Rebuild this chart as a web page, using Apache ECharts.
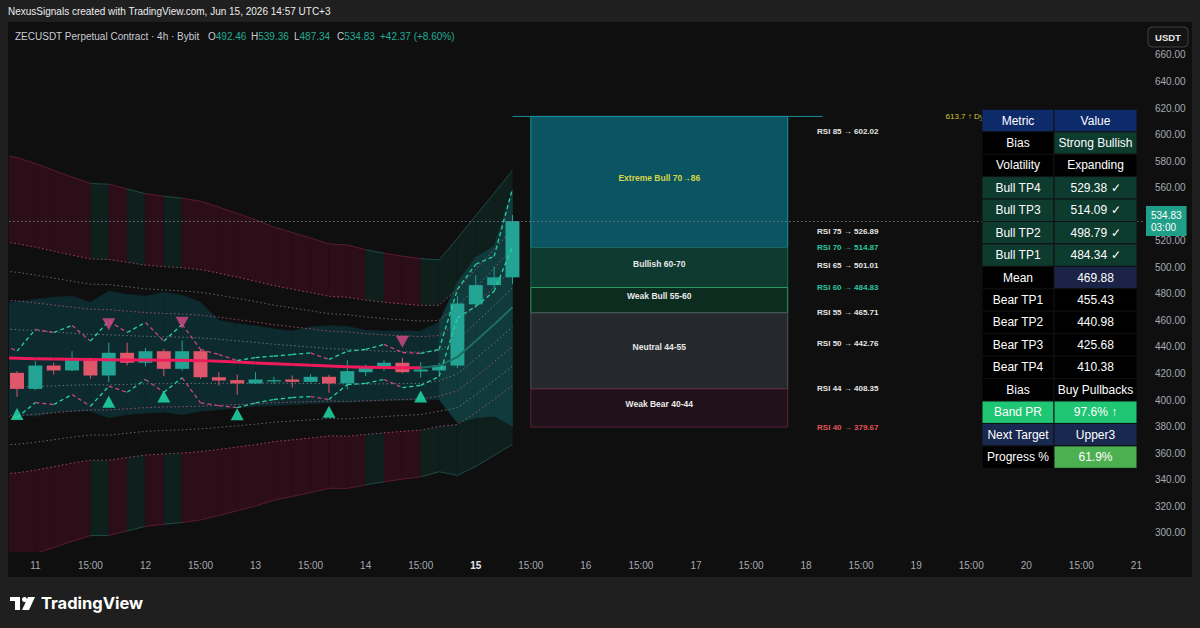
<!DOCTYPE html>
<html>
<head>
<meta charset="utf-8">
<title>ZECUSDT Perpetual Contract 4h</title>
<script src="https://cdn.jsdelivr.net/npm/echarts@6/dist/echarts.min.js"></script>
<style>
  html, body { margin: 0; padding: 0; background: #1f1f1f; }
  #chart { width: 1200px; height: 628px; }
</style>
</head>
<body>
<div id="chart"></div>
<script>
// x = bar index of the 4h candles (bar 1 = Jun 11 03:00, 6 bars a day)
const barIdx = [-1, 0, 1, 2, 3, 4, 5, 6, 7, 8, 9, 10, 11, 12, 13, 14, 15, 16, 17, 18, 19, 20, 21, 22, 23, 24, 25, 26, 27];

// candles, bars 0..27
const candleBars = [0, 1, 2, 3, 4, 5, 6, 7, 8, 9, 10, 11, 12, 13, 14, 15, 16, 17, 18, 19, 20, 21, 22, 23, 24, 25, 26, 27];
const candleO = [420.5, 408.4, 426.0, 422.3, 430.0, 418.5, 435.6, 428.1, 436.8, 423.5, 436.8, 417.2, 415.0, 412.5, 414.0, 415.5, 413.7, 417.5, 412.5, 421.0, 424.3, 428.1, 421.5, 422.3, 426.0, 472.1, 486.6, 492.46];
const candleH = [421.8, 429.3, 428.1, 436.8, 432.0, 443.2, 443.2, 439.3, 438.5, 444.9, 438.0, 421.0, 419.2, 421.0, 417.5, 418.5, 419.5, 419.0, 430.0, 426.8, 430.0, 431.8, 428.5, 428.0, 478.3, 494.0, 500.5, 539.36];
const candleL = [402.4, 407.5, 419.2, 421.8, 416.0, 413.4, 426.0, 425.2, 418.0, 422.0, 416.0, 411.0, 404.0, 412.0, 412.0, 409.5, 413.0, 405.5, 408.0, 418.0, 422.0, 420.0, 416.8, 420.0, 424.0, 469.6, 484.0, 487.34];
const candleC = [408.4, 426.0, 422.3, 430.0, 418.5, 435.6, 428.1, 436.8, 423.5, 436.8, 417.2, 414.7, 412.5, 415.5, 415.0, 413.7, 417.5, 412.5, 421.8, 424.8, 428.1, 421.0, 423.0, 426.0, 472.8, 486.6, 492.46, 534.83];

// band indicator, one value per barIdx
const bandMid = [431.8, 431.5, 431.2, 431.0, 430.8, 430.5, 430.3, 430.2, 430.1, 430.0, 429.9, 429.7, 429.2, 428.6, 428.0, 427.4, 426.8, 426.2, 425.6, 425.1, 424.7, 424.5, 424.4, 424.3, 425.8, 432.5, 444.5, 457.0, 469.88];
const bandStep = [43.8, 43.2, 42.0, 40.6, 39.2, 37.9, 37.8, 36.8, 35.8, 35.3, 34.9, 34.3, 33.2, 32.0, 30.8, 29.4, 28.4, 27.4, 26.3, 26.2, 25.3, 24.6, 24.0, 23.5, 22.8, 25.5, 27.0, 28.2, 29.5];
const dottedLevels = [2, 1.5, 1, 0.5, -0.5, -1, -1.5, -2];
const outerLevel = 3.5;
const bullFillBars = [5, 7, 9, 20, 23, 24, 25, 26, 27];   // segment ending at these bars is green
const meanBullFrom = 22;

const cloudTop = [472.5, 474.3, 475.8, 477.4, 478.3, 473.6, 481.9, 479.6, 478.3, 481.1, 478.9, 473.6, 460.0, 457.5, 455.7, 453.5, 452.0, 455.0, 456.0, 455.5, 452.5, 452.0, 452.0, 452.0, 458.5, 488.7, 507.5, 515.8, 559.0];
const cloudBot = [389.0, 389.0, 387.8, 390.6, 391.6, 391.6, 386.6, 389.1, 390.3, 391.0, 389.0, 391.6, 392.8, 394.0, 395.3, 395.8, 396.6, 397.4, 397.9, 398.4, 399.1, 399.6, 399.8, 400.4, 400.4, 382.8, 386.6, 387.8, 380.3];

const upperZig = [443.4, 436.8, 453.2, 450.9, 456.2, 444.4, 459.5, 450.9, 458.5, 444.4, 457.0, 438.1, 434.3, 429.8, 432.0, 433.1, 434.3, 435.5, 430.6, 436.8, 438.1, 441.9, 435.8, 435.1, 438.1, 483.4, 502.3, 508.3, 559.0];
const lowerZig = [388.0, 386.8, 398.1, 396.6, 404.2, 395.3, 410.4, 405.9, 415.5, 405.9, 416.8, 397.9, 395.8, 394.3, 397.9, 400.4, 401.9, 402.6, 400.4, 411.7, 412.5, 415.5, 409.4, 411.0, 417.7, 462.0, 470.6, 481.9, 515.8];

const buyBars = [0, 5, 8, 12, 17, 22];
const buyVals = [389.5, 398.8, 402.6, 389.3, 391.2, 402.6];
const sellBars = [5, 9, 21];
const sellVals = [457.1, 458.3, 444.0];

// RSI projection zones
const zoneNames = ['Extreme Bull 70→86', 'Bullish 60-70', 'Weak Bull 55-60', 'Neutral 44-55', 'Weak Bear 40-44'];
const zoneLow = [514.87, 484.83, 465.71, 408.35, 379.67];
const zoneHigh = [613.7, 514.87, 484.83, 465.71, 408.35];
const zoneFrom = 28, zoneTo = 42;
const rsiNames = ['RSI 85', 'RSI 75', 'RSI 70', 'RSI 65', 'RSI 60', 'RSI 55', 'RSI 50', 'RSI 44', 'RSI 40'];
const rsiPrices = [602.02, 526.89, 514.87, 501.01, 484.83, 465.71, 442.76, 408.35, 379.67];
const rsiKind = [0, 0, 1, 0, 1, 0, 0, 0, 2];
const dynHigh = 613.7;

// table
const tableMetric = ['Metric', 'Bias', 'Volatility', 'Bull TP4', 'Bull TP3', 'Bull TP2', 'Bull TP1', 'Mean', 'Bear TP1', 'Bear TP2', 'Bear TP3', 'Bear TP4', 'Bias', 'Band PR', 'Next Target', 'Progress %'];
const tableValue = ['Value', 'Strong Bullish', 'Expanding', '529.38 ✓', '514.09 ✓', '498.79 ✓', '484.34 ✓', '469.88', '455.43', '440.98', '425.68', '410.38', 'Buy Pullbacks', '97.6% ↑', 'Upper3', '61.9%'];

// axes
const xTickIdx = [1, 4, 7, 10, 13, 16, 19, 22, 25, 28, 31, 34, 37, 40, 43, 46, 49, 52, 55, 58, 61];
const xTickLabels = ['11', '15:00', '12', '15:00', '13', '15:00', '14', '15:00', '15', '15:00', '16', '15:00', '17', '15:00', '18', '15:00', '19', '15:00', '20', '15:00', '21'];
const yTicks = [300, 320, 340, 360, 380, 400, 420, 440, 460, 480, 500, 520, 540, 560, 580, 600, 620, 640, 660];
const countdown = '03:00';

// ---- styles
const FONT = '"Liberation Sans", Arial, sans-serif';
const UP = '#22a394', DOWN = '#e0566b';
const FILL_BEAR = '#2b0e18', FILL_BULL = '#0f1f1c';
const OUTER_BEAR = '#5a1a2c', OUTER_BULL = '#1c4a45';
const zoneFill = ['#0b5461', '#0e3a30', '#0d2c20', '#25282c', '#21111a'];
const zoneStroke = ['#1b8f9c', '#1b6a55', '#2c9a60', '#50555b', '#5b2238'];
const zoneText = ['#d6d64a', '#e8e8e8', '#e8e8e8', '#e8e8e8', '#e8e8e8'];
const rsiColor = ['#e6e6e6', '#2bc7a2', '#e0555a'];
const metricFill = ['#0d2a6b', '#000', '#000', '#0d3b2e', '#0d3b2e', '#0d3b2e', '#0d3b2e', '#000', '#000', '#000', '#000', '#000', '#000', '#1fc673', '#19284f', '#000'];
const valueFill = ['#0d2a6b', '#0d3b2e', '#000', '#0d3b2e', '#0d3b2e', '#0d3b2e', '#0d3b2e', '#1b2346', '#000', '#000', '#000', '#000', '#000', '#1fc673', '#19284f', '#4caf50'];

const level = (m, k) => bandMid[k] + m * bandStep[k];

function fillData(lo, hi) {
  const d = [];
  for (let k = 0; k < barIdx.length - 1; k++) {
    d.push([barIdx[k], lo(k), hi(k), barIdx[k + 1], lo(k + 1), hi(k + 1),
      bullFillBars.indexOf(barIdx[k + 1]) >= 0 ? 1 : 0]);
  }
  return d;
}

function polyRenderer(colA, colB) {
  return function (params, api) {
    const a = api.coord([api.value(0), api.value(1)]);
    const b = api.coord([api.value(3), api.value(4)]);
    const c = api.coord([api.value(3), api.value(5)]);
    const d = api.coord([api.value(0), api.value(2)]);
    const col = api.value(6) ? colB : colA;
    return { type: 'polygon', shape: { points: [a, b, c, d] }, style: { fill: col, stroke: col, lineWidth: 0.6 } };
  };
}

function segData(vals, flagFn) {
  const d = [];
  for (let k = 0; k < vals.length - 1; k++) {
    d.push([barIdx[k], vals[k], barIdx[k + 1], vals[k + 1], flagFn(k)]);
  }
  return d;
}

function segRenderer(colA, colB, width, dash) {
  return function (params, api) {
    const p0 = api.coord([api.value(0), api.value(1)]);
    const p1 = api.coord([api.value(2), api.value(3)]);
    return {
      type: 'line',
      shape: { x1: p0[0], y1: p0[1], x2: p1[0], y2: p1[1] },
      style: { stroke: api.value(4) ? colB : colA, lineWidth: width, lineDash: dash || null, lineCap: 'butt' }
    };
  };
}

function renderCandle(params, api) {
  const i = api.value(0), o = api.value(1), h = api.value(2), l = api.value(3), c = api.value(4);
  const pO = api.coord([i, o]), pC = api.coord([i, c]);
  const pH = api.coord([i, h]), pL = api.coord([i, l]);
  const bw = api.size([1, 0])[0] * 0.76;
  const col = c >= o ? UP : DOWN;
  const top = Math.min(pO[1], pC[1]);
  return {
    type: 'group',
    children: [
      { type: 'line', shape: { x1: pH[0], y1: pH[1], x2: pL[0], y2: pL[1] }, style: { stroke: col, lineWidth: 1 } },
      { type: 'rect', shape: { x: pO[0] - bw / 2, y: top, width: bw, height: Math.max(Math.abs(pO[1] - pC[1]), 1) }, style: { fill: col } }
    ]
  };
}

function renderZone(params, api) {
  const k = api.value(4);
  const p0 = api.coord([api.value(0), api.value(3)]);
  const p1 = api.coord([api.value(1), api.value(2)]);
  return {
    type: 'group',
    children: [
      { type: 'rect', shape: { x: p0[0], y: p0[1], width: p1[0] - p0[0], height: p1[1] - p0[1] },
        style: { fill: zoneFill[k], stroke: zoneStroke[k], lineWidth: 1 } },
      { type: 'text', x: (p0[0] + p1[0]) / 2, y: (p0[1] + p1[1]) / 2 - 4,
        style: { text: zoneNames[k], fill: zoneText[k], font: 'bold 8.5px ' + FONT, align: 'center', verticalAlign: 'middle', textAlign: 'center', textVerticalAlign: 'middle' } }
    ]
  };
}

function renderRsiLabel(params, api) {
  const k = api.value(2);
  const p = api.coord([api.value(0), api.value(1)]);
  return {
    type: 'text', x: p[0], y: p[1],
    style: { text: rsiNames[k] + ' → ' + rsiPrices[k].toFixed(2), fill: rsiColor[rsiKind[k]], font: 'bold 8px ' + FONT,
      align: 'left', verticalAlign: 'middle', textAlign: 'left', textVerticalAlign: 'middle' }
  };
}

const series = [];

// outer band fills
series.push({ type: 'custom', name: 'upperFill', z: 1, clip: true, silent: true,
  renderItem: polyRenderer(FILL_BEAR, FILL_BULL),
  data: fillData(k => level(2, k), k => level(outerLevel, k)) });
series.push({ type: 'custom', name: 'lowerFill', z: 1, clip: true, silent: true,
  renderItem: polyRenderer(FILL_BEAR, FILL_BULL),
  data: fillData(k => level(-outerLevel, k), k => level(-2, k)) });

// teal cloud
series.push({ type: 'custom', name: 'cloud', z: 1, clip: true, silent: true,
  renderItem: polyRenderer('#0d2b2f', '#113a3c'),
  data: fillData(k => cloudBot[k], k => cloudTop[k]).map(d => { d[6] = d[3] >= 24 ? 1 : 0; return d; }) });

// dotted band lines
dottedLevels.forEach((m, j) => {
  const s = {
    type: 'line', name: 'band' + m, z: 2, silent: true, symbol: 'none',
    data: barIdx.map((x, k) => [x, level(m, k)]),
    lineStyle: { width: 1, type: [1.5, 2.5], color: Math.abs(m) % 1 === 0 ? 'rgba(196,92,126,0.75)' : 'rgba(160,160,160,0.6)' }
  };
  if (j === 0) {
    s.markLine = {
      silent: true, symbol: ['none', 'none'], animation: false,
      lineStyle: { type: [1.5, 2.5], width: 1, color: '#6c7878' },
      label: {
        show: true, position: 'end', distance: 3,
        formatter: candleC[candleC.length - 1].toFixed(2) + '\n' + countdown,
        backgroundColor: '#1f9e88', color: '#ffffff', fontSize: 10, lineHeight: 12,
        fontFamily: FONT, padding: [3, 5, 3, 5]
      },
      data: [{ yAxis: candleC[candleC.length - 1] }]
    };
  }
  series.push(s);
});

// outer band lines
[outerLevel, -outerLevel].forEach(m => {
  series.push({ type: 'custom', name: 'outer' + m, z: 2, clip: true, silent: true,
    renderItem: segRenderer(OUTER_BEAR, OUTER_BULL, 1),
    data: segData(barIdx.map((x, k) => level(m, k)), k => bullFillBars.indexOf(barIdx[k + 1]) >= 0 ? 1 : 0) });
});

// candles
series.push({ type: 'custom', name: 'ZECUSDT', z: 3, clip: true, silent: true,
  renderItem: renderCandle,
  data: candleBars.map((b, k) => [b, candleO[k], candleH[k], candleL[k], candleC[k]]) });

// mean line
series.push({ type: 'custom', name: 'meanBear', z: 4, clip: true, silent: true,
  renderItem: segRenderer('#ee1a5b', '#ee1a5b', 3),
  data: segData(bandMid, () => 0).filter(d => d[0] < meanBullFrom) });
series.push({ type: 'custom', name: 'meanBull', z: 4, clip: true, silent: true,
  renderItem: segRenderer('#1d6e63', '#1d6e63', 2),
  data: segData(bandMid, () => 0).filter(d => d[0] >= meanBullFrom) });

// zigzag dashed lines, green when rising, pink when falling
[upperZig, lowerZig].forEach((vals, j) => {
  series.push({ type: 'custom', name: 'zig' + j, z: 4, clip: true, silent: true,
    renderItem: segRenderer('#cc4675', '#26d3a0', 1.3, [4, 3]),
    data: segData(vals, k => vals[k + 1] >= vals[k] ? 1 : 0) });
});

// signals
series.push({ type: 'scatter', name: 'buy', z: 5, silent: true, symbol: 'triangle', symbolSize: [13, 12],
  itemStyle: { color: '#1fe6b0' }, data: buyBars.map((b, k) => [b, buyVals[k]]) });
series.push({ type: 'scatter', name: 'sell', z: 5, silent: true, symbol: 'triangle', symbolRotate: 180, symbolSize: [13, 12],
  itemStyle: { color: '#d84b88' }, data: sellBars.map((b, k) => [b, sellVals[k]]) });

// RSI zones
series.push({ type: 'custom', name: 'zones', z: 3, silent: true, renderItem: renderZone,
  data: zoneNames.map((n, k) => [zoneFrom, zoneTo, zoneLow[k], zoneHigh[k], k]) });
series.push({ type: 'custom', name: 'zoneTop', z: 3, silent: true,
  renderItem: segRenderer('#1b8f9c', '#1b8f9c', 1),
  data: [[27, dynHigh, 43.9, dynHigh, 0]] });
series.push({ type: 'custom', name: 'rsiLabels', z: 3, silent: true, renderItem: renderRsiLabel,
  data: rsiNames.map((n, k) => [43.6, rsiPrices[k], k]) });
series.push({ type: 'custom', name: 'dynLabel', z: 3, silent: true,
  renderItem: function (params, api) {
    const p = api.coord([api.value(0), api.value(1)]);
    return { type: 'text', x: p[0], y: p[1], style: { text: dynHigh.toFixed(1) + ' ↑ Dy', fill: '#d6c23a', font: '8px ' + FONT,
      align: 'left', verticalAlign: 'middle', textAlign: 'left', textVerticalAlign: 'middle' } };
  },
  data: [[50.6, dynHigh]] });

// ---- graphic: frame, header, table, logo
const last = candleC.length - 1;
const chg = candleC[last] - candleC[last - 1];
const HFONT = '10px ' + FONT;
const hdrRich = { t: { fill: '#c9ccd4', font: HFONT }, v: { fill: '#22ab94', font: HFONT } };
const ohlcText = [
  ['O', candleO[last].toFixed(2), 208],
  ['H', candleH[last].toFixed(2), 251],
  ['L', candleL[last].toFixed(2), 294],
  ['C', candleC[last].toFixed(2), 337]
];
const graphics = [
  { type: 'rect', z: -10, shape: { x: 8, y: 22, width: 1184, height: 555 }, style: { fill: '#0f0f0f' } },
  { type: 'text', x: 8, y: 11, z: 50, style: { text: 'NexusSignals created with TradingView.com, Jun 15, 2026 14:57 UTC+3', fill: '#ececec', font: '10px ' + FONT, verticalAlign: 'middle', textVerticalAlign: 'middle' } },
  { type: 'text', x: 15, y: 36, z: 50, style: { text: 'ZECUSDT Perpetual Contract · 4h · Bybit', fill: '#c9ccd4', font: HFONT, verticalAlign: 'middle', textVerticalAlign: 'middle' } },
  { type: 'text', x: 380, y: 36, z: 50, style: { text: '+' + chg.toFixed(2) + ' (+' + (chg / candleC[last - 1] * 100).toFixed(2) + '%)', fill: '#22ab94', font: HFONT, verticalAlign: 'middle', textVerticalAlign: 'middle' } },
  { type: 'rect', z: 50, shape: { x: 1148, y: 27, width: 40, height: 20, r: 4 }, style: { fill: '#141414', stroke: '#3e3e3e', lineWidth: 1 } },
  { type: 'text', x: 1168, y: 37, z: 51, style: { text: 'USDT', fill: '#e8e8e8', font: 'bold 9.5px ' + FONT, align: 'center', verticalAlign: 'middle', textAlign: 'center', textVerticalAlign: 'middle' } },
  // TradingView logo
  { type: 'rect', z: 50, shape: { x: 10, y: 597, width: 10, height: 4 }, style: { fill: '#ffffff' } },
  { type: 'rect', z: 50, shape: { x: 15, y: 597, width: 5, height: 13 }, style: { fill: '#ffffff' } },
  { type: 'circle', z: 50, shape: { cx: 24.5, cy: 599.5, r: 2.5 }, style: { fill: '#ffffff' } },
  { type: 'polygon', z: 50, shape: { points: [[28, 597], [35, 597], [29, 610], [22, 610]] }, style: { fill: '#ffffff' } },
  { type: 'text', x: 41, y: 603, z: 50, style: { text: 'TradingView', fill: '#ffffff', font: 'bold 16.5px Inter, ' + FONT, verticalAlign: 'middle', textVerticalAlign: 'middle' } }
];
ohlcText.forEach(o => {
  graphics.push({ type: 'text', x: o[2], y: 36, z: 50, style: { text: '{t|' + o[0] + '}{v|' + o[1] + '}', font: HFONT,
    verticalAlign: 'middle', textVerticalAlign: 'middle', rich: hdrRich } });
});

const colX = [982, 1054, 1137];
const tableTop = 109.3, rowH = 22.44;
tableMetric.forEach((m, r) => {
  const y = tableTop + r * rowH;
  [[m, metricFill[r]], [tableValue[r], valueFill[r]]].forEach((cell, c) => {
    graphics.push({ type: 'rect', z: 60, shape: { x: colX[c], y: y, width: colX[c + 1] - colX[c], height: rowH },
      style: { fill: cell[1], stroke: '#121212', lineWidth: 1 } });
    graphics.push({ type: 'text', z: 61, x: (colX[c] + colX[c + 1]) / 2, y: y + rowH / 2,
      style: { text: cell[0], fill: '#ffffff', font: '12px ' + FONT, align: 'center', verticalAlign: 'middle', textAlign: 'center', textVerticalAlign: 'middle' } });
  });
});

const chart = echarts.init(document.getElementById('chart'), null, { renderer: 'svg' });
chart.setOption({
  animation: false,
  backgroundColor: '#1f1f1f',
  grid: { left: 9, right: 57, top: 23, bottom: 76, containLabel: false, outerBoundsMode: 'none' },
  xAxis: {
    type: 'value', min: -0.436, max: 61.36,
    axisLine: { show: false }, axisTick: { show: false }, splitLine: { show: false },
    axisLabel: {
      customValues: xTickIdx, margin: 8, color: '#a6a9b0', fontSize: 10, fontFamily: FONT,
      formatter: v => {
        const t = xTickLabels[xTickIdx.indexOf(Math.round(v))] || '';
        return t === '15' ? '{b|15}' : t;
      },
      rich: { b: { fontWeight: 'bold', color: '#e6e6e6', fontSize: 10, fontFamily: FONT } }
    }
  },
  yAxis: {
    type: 'value', position: 'right', min: 285.5, max: 684.1, scale: true,
    axisLine: { show: false }, axisTick: { show: false }, splitLine: { show: false },
    axisLabel: { customValues: yTicks, margin: 12, color: '#a6a9b0', fontSize: 10, fontFamily: FONT, formatter: v => v.toFixed(2) }
  },
  graphic: { elements: graphics },
  series: series
});
</script>
</body>
</html>
